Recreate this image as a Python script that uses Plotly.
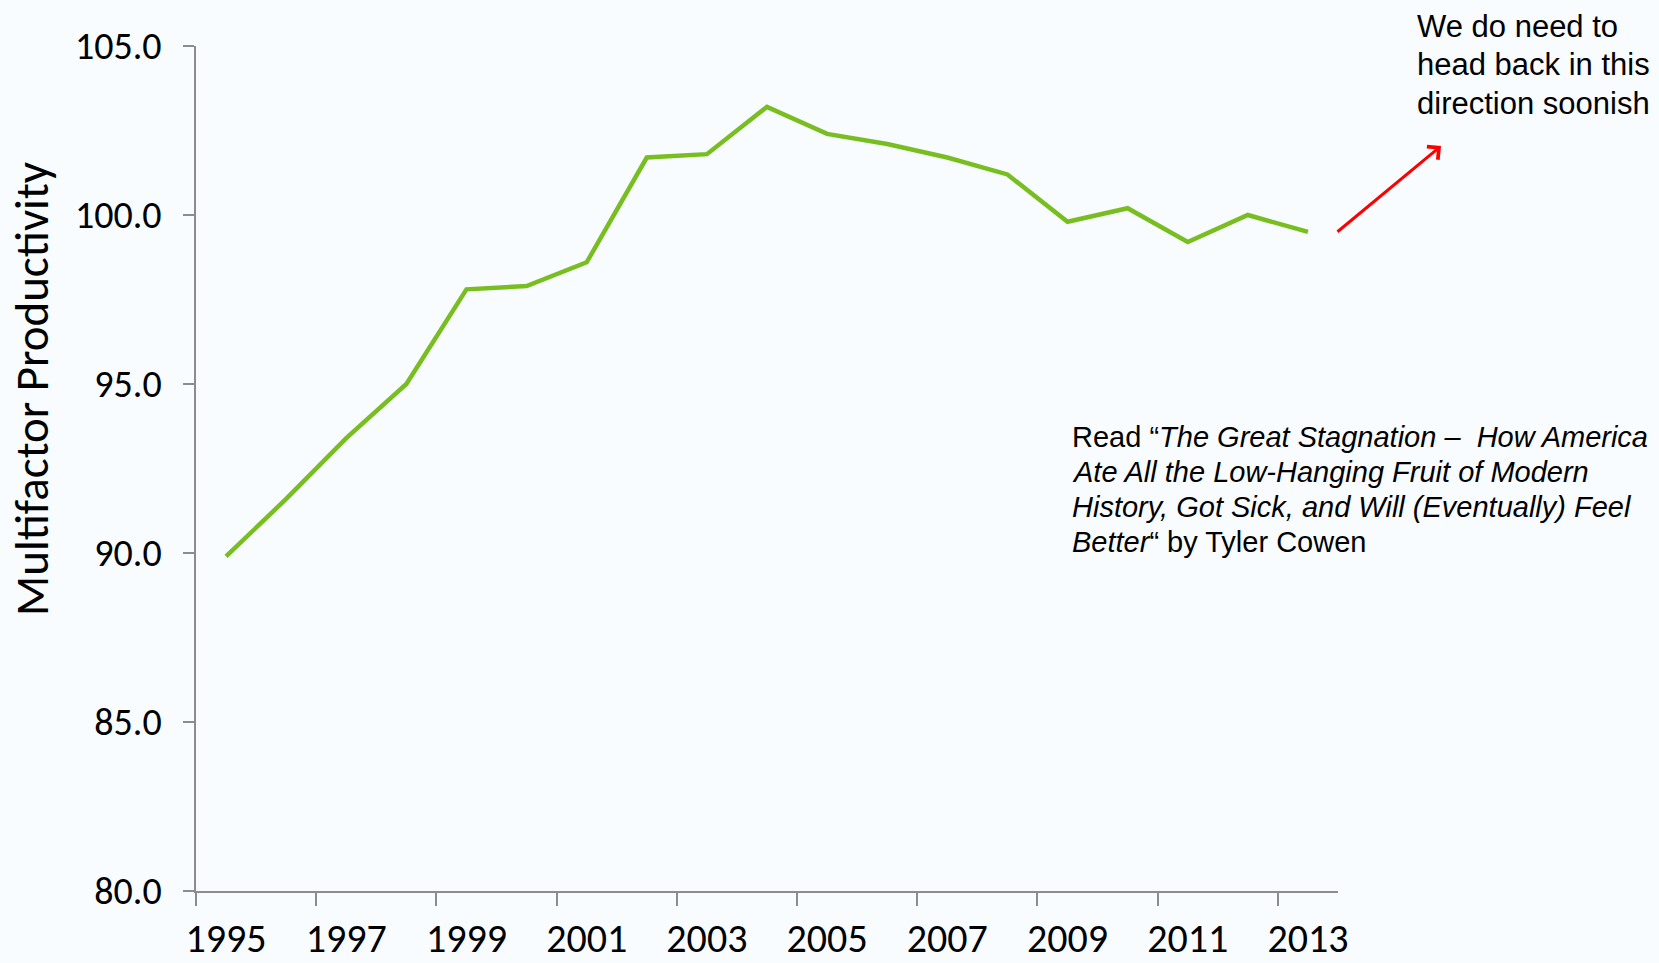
import plotly.graph_objects as go

# Multifactor productivity index
years = list(range(1995, 2014))
productivity = [89.9, 91.6, 93.4, 95.0, 97.8, 97.9, 98.6, 101.7, 101.8, 103.2,
                102.4, 102.1, 101.7, 101.2, 99.8, 100.2, 99.2, 100.0, 99.5]
year_labels = [str(y) for y in range(1995, 2014, 2)]
y_ticks = [80, 85, 90, 95, 100, 105]

book_lines = [
    "Read \u201c<i>The Great Stagnation \u2013  How America</i>",
    "<i>Ate All the Low-Hanging Fruit of Modern</i>",
    "<i>History, Got Sick, and Will (Eventually) Feel</i>",
    "<i>Better</i>\u201c by Tyler Cowen",
]
note_lines = ["We do need to", "head back in this", "direction soonish"]

BG = "#F8FCFE"
AXIS = "#8C8C8C"
SANS = "Carlito, Lato, sans-serif"
ARIAL = "Arial, Liberation Sans, sans-serif"

# plot area in pixels: x 196..1338, y 46..891
L, R, T, B = 196, 1338, 46, 891


def px(x, y):
    # pixel position -> paper coords
    return (x - L) / (R - L), (B - y) / (B - T)


fig = go.Figure()
fig.add_trace(go.Scatter(
    x=years, y=productivity, mode="lines",
    line=dict(color="#78BE20", width=4.5), showlegend=False
))

# boundary ticks every two categories, labels on the category centres
fig.update_xaxes(
    range=[1994.5, 2013.5], automargin=False,
    tickvals=[int(t) for t in year_labels], ticktext=year_labels,
    ticks="outside", ticklen=11, tickcolor="rgba(0,0,0,0)",
    minor=dict(tickvals=[y - 0.5 for y in range(1995, 2015, 2)],
               ticks="outside", ticklen=13, tickcolor=AXIS, tickwidth=1.5),
    showline=True, linecolor=AXIS, linewidth=1.5, showgrid=False, zeroline=False,
    tickfont=dict(family=SANS, size=40, color="black"),
)
fig.update_yaxes(
    range=[80, 105], tickvals=y_ticks, tickformat=".1f", automargin=False,
    ticks="outside", ticklen=11, tickcolor=AXIS, tickwidth=1.5,
    ticklabelstandoff=14,
    showline=True, linecolor=AXIS, linewidth=1.5, showgrid=False, zeroline=False,
    tickfont=dict(family=SANS, size=38, color="black"),
)

tx, ty = px(32, 389)
fig.add_annotation(
    text="Multifactor Productivity", textangle=-90,
    xref="paper", yref="paper", x=tx, y=ty, xanchor="center", yanchor="middle",
    showarrow=False, font=dict(family=SANS, size=47, color="black"),
)

for i, line in enumerate(book_lines):
    ax_, ay_ = px(1070, 437 + 35 * i)
    fig.add_annotation(
        text=line, xref="paper", yref="paper", x=ax_, y=ay_,
        xanchor="left", yanchor="middle", showarrow=False,
        font=dict(family=ARIAL, size=29, color="black"),
    )

for i, line in enumerate(note_lines):
    ax_, ay_ = px(1415, 26 + 38.6 * i)
    fig.add_annotation(
        text=line, xref="paper", yref="paper", x=ax_, y=ay_,
        xanchor="left", yanchor="middle", showarrow=False,
        font=dict(family=ARIAL, size=31, color="black"),
    )

# red arrow pointing up and to the right
hx, hy = px(1441, 146)
fig.add_annotation(
    x=hx, y=hy, xref="paper", yref="paper",
    ax=-105, ay=87, axref="pixel", ayref="pixel", text="",
    showarrow=True, arrowhead=4, arrowsize=1.1, arrowwidth=3, arrowcolor="#FF0000",
)

fig.update_layout(
    width=1659, height=963,
    margin=dict(l=L, r=1659 - R, t=T, b=963 - B),
    paper_bgcolor=BG, plot_bgcolor=BG,
)

fig.write_html("out.html", config={"displayModeBar": False},
               post_script="document.body.style.margin='0';")
